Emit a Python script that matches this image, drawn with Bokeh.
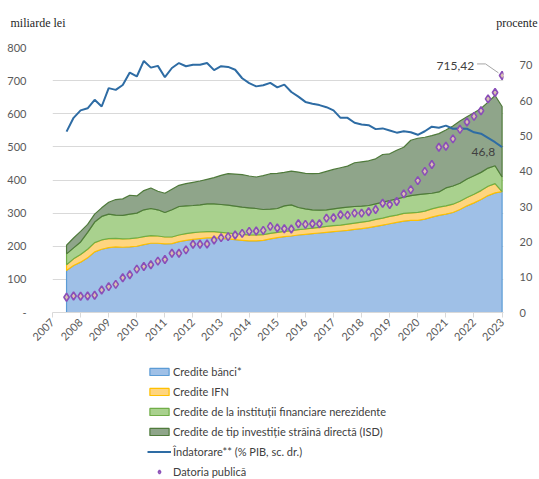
import math
from bokeh.plotting import figure
from bokeh.layouts import column, row
from bokeh.models import Range1d, LinearAxis, Legend, LegendItem, Label, FixedTicker
from bokeh.embed import file_html
from bokeh.resources import INLINE
from bokeh.core.properties import value

# quarterly periods 2007 T2 ... 2022 T4
quarters = [(y, q) for y in range(2007, 2023) for q in range(1, 5)][1:]
year_ticks = list(range(2007, 2024))

credite_banci = [127, 142, 152, 165, 183, 191, 196, 198, 197, 198,
                 200, 205, 209, 209, 207, 208, 214, 218, 221, 223,
                 225, 226, 224, 222, 220, 218, 216, 216, 218, 222,
                 226, 229, 231, 234, 236, 238, 240, 242, 244, 246,
                 248, 251, 253, 256, 260, 264, 268, 272, 276, 278,
                 278, 282, 288, 293, 297, 302, 311, 322, 331, 341,
                 353, 361, 365]
credite_ifn = [17, 20, 23, 26, 28, 28, 27, 26, 25, 25,
               25, 24, 23, 22, 21, 20, 20, 20, 20, 20,
               19, 18, 18, 18, 18, 18, 18, 18, 17, 17,
               16, 16, 16, 16, 16, 17, 17, 18, 18, 18,
               19, 19, 20, 20, 21, 21, 22, 22, 23, 23,
               24, 24, 25, 25, 25, 25, 25, 25, 26, 27,
               28, 28, 0]
credite_nerezidente = [33, 33, 38, 51, 62, 71, 74, 70, 71, 74,
                       75, 81, 82, 79, 74, 82, 86, 84, 82, 82,
                       84, 84, 84, 84, 83, 82, 82, 80, 76, 73,
                       72, 77, 78, 67, 61, 55, 52, 50, 51, 52,
                       51, 50, 48, 47, 47, 48, 48, 49, 49, 52,
                       54, 52, 47, 46, 54, 55, 54, 56, 56, 55,
                       55, 54, 44]
credite_isd = [26, 30, 32, 24, 24, 26, 36, 47, 50, 57,
               52, 58, 62, 56, 58, 62, 64, 67, 70, 72,
               74, 79, 88, 95, 97, 98, 96, 95, 102, 107,
               106, 101, 102, 107, 107, 109, 111, 116, 119, 121,
               124, 132, 134, 135, 136, 144, 141, 147, 151, 167,
               170, 171, 174, 176, 175, 181, 188, 188, 190, 193,
               199, 212, 213]
indatorare = [51.2, 55.1, 57.2, 57.8, 60.2, 58.3, 63.5, 63.0, 64.4, 67.9,
              66.8, 71.2, 69.3, 69.8, 66.6, 69.2, 70.6, 69.7, 70.1, 70.1,
              70.6, 68.6, 69.7, 69.5, 68.7, 66.3, 64.9, 64.0, 64.3, 65.0,
              63.7, 64.5, 62.4, 61.1, 59.6, 59.1, 58.7, 58.1, 57.2, 55.1,
              55.1, 53.7, 53.2, 53.0, 51.9, 52.1, 51.5, 50.9, 51.3, 51.0,
              50.3, 51.3, 52.6, 52.3, 52.9, 52.0, 52.1, 52.0, 51.0, 50.6,
              49.4, 48.2, 46.8]
datoria_publica = [46, 50, 49, 50, 52, 68, 78, 85, 105, 114,
                   131, 139, 144, 155, 160, 179, 179, 189, 206, 206,
                   207, 219, 226, 229, 234, 239, 245, 246, 248, 260,
                   255, 253, 252, 268, 266, 268, 268, 285, 286, 295,
                   294, 300, 300, 304, 311, 330, 326, 335, 358, 371,
                   398, 426, 447, 499, 502, 524, 553, 575, 592, 609,
                   645, 664, 715.42]
legend_labels = ["Credite bănci*", "Credite IFN",
                 "Credite de la instituții financiare nerezidente",
                 "Credite de tip investiție străină directă (ISD)",
                 "Îndatorare** (% PIB, sc. dr.)", "Datoria publică"]

x = [y + q / 4 for (y, q) in quarters]

FONT = "Lato"
GRID = "#d9d9d9"
TXT = "#595959"
W = 539
HEAD_H = 30
MAIN_H = 325
LEG_H = 479 - HEAD_H - MAIN_H

fills = ["#9fc0e7", "#ffd57f", "#a9d18e", "#8fa58a"]
lines = ["#5b9bd5", "#ffc000", "#70ad47", "#4f7a3b"]
LINE_C = "#2e6ca4"
MK_LINE = "#8a4fb8"
MK_FILL = "#d9c2b0"
MK_SIZE = 8


def bare(height):
    f = figure(width=W, height=height, output_backend="svg", toolbar_location=None,
               x_axis_location=None, y_axis_location=None,
               x_range=Range1d(0, W), y_range=Range1d(0, height),
               min_border_left=0, min_border_right=0, min_border_top=0,
               min_border_bottom=0)
    f.grid.visible = False
    f.outline_line_color = None
    return f


# header with the unit labels
head = bare(HEAD_H)
head.add_layout(Label(x=10, y=HEAD_H - 22, text="miliarde lei", text_font="Liberation Serif",
                      text_font_size="12px", text_color="#262626", text_baseline="middle"))
head.add_layout(Label(x=W - 2, y=HEAD_H - 22, text="procente", text_font="Liberation Serif",
                      text_font_size="12px", text_color="#262626", text_baseline="middle",
                      text_align="right"))

# main chart
p = figure(width=W, height=MAIN_H, output_backend="svg", toolbar_location=None,
           x_range=Range1d(2007, 2023.05), y_range=Range1d(0, 800),
           min_border_left=52, min_border_right=36, min_border_top=17,
           min_border_bottom=43)
p.extra_y_ranges = {"right": Range1d(0, 75)}
p.outline_line_color = None

layers = [credite_banci, credite_ifn, credite_nerezidente, credite_isd]
bottom = [0] * len(x)
for vals, fc, lc in zip(layers, fills, lines):
    top = [b + v for b, v in zip(bottom, vals)]
    p.patch(x + x[::-1], top + bottom[::-1], fill_color=fc, line_color=lc, line_width=1.2)
    bottom = top

p.line(x, indatorare, y_range_name="right", line_color=LINE_C, line_width=2)
p.scatter(x, datoria_publica, marker="diamond", size=MK_SIZE, line_color=MK_LINE,
          fill_color=MK_FILL, line_width=1.6)

# annotations for last values
xl, yl = x[-1], datoria_publica[-1]
p.line([xl - 0.89, xl - 0.59, xl - 0.13], [yl + 35, yl + 35, yl + 8],
       line_color="#a6a6a6", line_width=1)
p.text([xl], [yl], text=["715,42"], text_font=value(FONT), text_font_size="12px",
       text_color="#404040", text_align="right", text_baseline="middle",
       x_offset=-28, y_offset=-10)
p.text([xl], [indatorare[-1]], text=["46,8"], y_range_name="right",
       text_font=value(FONT), text_font_size="12px", text_color="#404040",
       text_align="right", text_baseline="middle", x_offset=-7, y_offset=5)

yl_ax = p.yaxis[0]
yl_ax.ticker = FixedTicker(ticks=list(range(0, 801, 100)))
yl_ax.major_label_overrides = {0: "-"}
p.ygrid.ticker = FixedTicker(ticks=list(range(100, 801, 100)))
p.ygrid.grid_line_color = GRID
p.xgrid.grid_line_color = None

yr = LinearAxis(y_range_name="right", ticker=FixedTicker(ticks=list(range(0, 71, 10))))
p.add_layout(yr, "right")

for ax in (yl_ax, yr):
    ax.axis_line_color = None
    ax.major_tick_line_color = None
    ax.minor_tick_line_color = None
    ax.major_label_text_font = FONT
    ax.major_label_text_font_size = "11px"
    ax.major_label_text_color = TXT
yl_ax.major_label_standoff = 20
yr.major_label_standoff = 10

xa = p.xaxis[0]
xa.ticker = FixedTicker(ticks=year_ticks)
xa.major_label_overrides = {t: str(t) for t in year_ticks}
xa.major_label_orientation = math.pi / 4
xa.axis_line_color = GRID
xa.major_tick_line_color = GRID
xa.major_tick_out = 5
xa.major_tick_in = 0
xa.minor_tick_line_color = None
xa.major_label_standoff = 3
xa.major_label_text_font = FONT
xa.major_label_text_font_size = "11px"
xa.major_label_text_color = TXT

# legend panel (stand-in glyphs placed outside the visible range, styled like the series)
lf = bare(LEG_H)
lr = []
for fc, lc in zip(fills, lines):
    lr.append(lf.patch([-50, -40, -40], [-50, -50, -40], fill_color=fc, line_color=lc,
                       line_width=1.2))
lr.append(lf.line([-50, -40], [-50, -50], line_color=LINE_C, line_width=2))
lr.append(lf.scatter([-50], [-50], marker="diamond", size=MK_SIZE, line_color=MK_LINE,
                     fill_color=MK_FILL, line_width=1.6))
legend = Legend(items=[LegendItem(label=t, renderers=[r]) for t, r in zip(legend_labels, lr)],
                location=(95, 1), orientation="vertical")
legend.border_line_color = None
legend.background_fill_alpha = 0
legend.padding = 0
legend.margin = 0
legend.spacing = 6
legend.label_height = 14
legend.glyph_height = 9
legend.glyph_width = 24
legend.label_standoff = 2
legend.label_text_font = FONT
legend.label_text_font_size = "11px"
legend.label_text_color = "#404040"
lf.add_layout(legend, "center")

layout = column(row(head), p, lf, spacing=0)
open("out.html", "w").write(file_html(layout, INLINE))
